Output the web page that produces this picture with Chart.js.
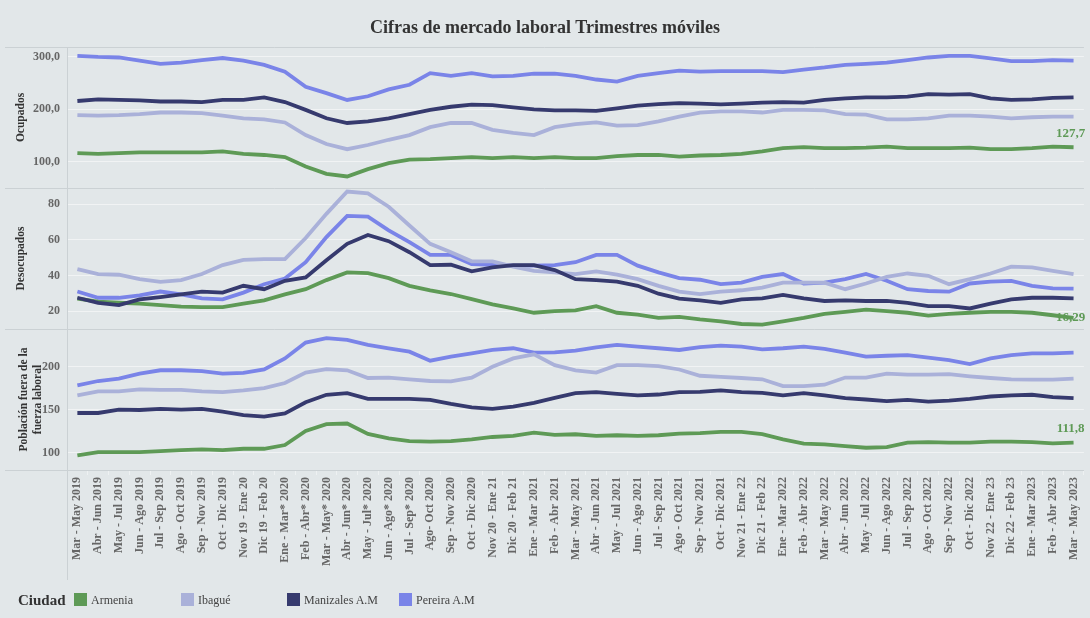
<!DOCTYPE html>
<html><head><meta charset="utf-8">
<script src="https://cdn.jsdelivr.net/npm/chart.js@4.4.1/dist/chart.umd.min.js"></script>
<style>
html,body{margin:0;padding:0;background:#e2e7e9;}
#wrap{position:relative;width:1090px;height:618px;overflow:hidden;background:#e2e7e9;}
#c{position:absolute;left:0;top:0;}
#title{position:absolute;left:0;top:16px;width:1090px;text-align:center;font:bold 18px 'Liberation Serif','Times New Roman',serif;line-height:22px;color:#333;}
#legend{position:absolute;left:0;top:590px;width:1090px;height:24px;font-family:'Liberation Serif','Times New Roman',serif;}
#legend .hd{position:absolute;left:18px;top:0;font-weight:bold;font-size:15px;color:#333;line-height:20px;}
#legend .bx{position:absolute;top:3px;width:13px;height:13px;}
#legend .tx{position:absolute;top:0;font-size:12px;color:#444;line-height:20px;}
</style></head>
<body>
<div id="wrap">
<canvas id="c" width="1090" height="618"></canvas>
<div id="title">Cifras de mercado laboral Trimestres móviles</div>
<div id="legend"><span class="hd">Ciudad</span></div>
</div>
<script>
const periods = ["Mar - May 2019","Abr - Jun 2019","May - Jul 2019","Jun - Ago 2019","Jul - Sep 2019","Ago - Oct 2019","Sep - Nov 2019","Oct - Dic 2019","Nov 19 - Ene 20","Dic 19 - Feb 20",
"Ene - Mar* 2020","Feb - Abr* 2020","Mar - May* 2020","Abr - Jun* 2020","May - Jul* 2020","Jun - Ago* 2020","Jul - Sep* 2020","Ago- Oct 2020","Sep - Nov 2020","Oct - Dic 2020",
"Nov 20 - Ene 21","Dic 20 - Feb 21","Ene - Mar 2021","Feb - Abr 2021","Mar - May 2021","Abr - Jun 2021","May - Jul 2021","Jun - Ago 2021","Jul - Sep 2021","Ago - Oct 2021",
"Sep - Nov 2021","Oct - Dic 2021","Nov 21 - Ene 22","Dic 21 - Feb 22","Ene - Mar 2022","Feb - Abr 2022","Mar - May 2022","Abr - Jun 2022","May - Jul 2022","Jun - Ago 2022",
"Jul - Sep 2022","Ago - Oct 2022","Sep - Nov 2022","Oct - Dic 2022","Nov 22 - Ene 23","Dic 22 - Feb 23","Ene - Mar 2023","Feb - Abr 2023","Mar - May 2023"];

const cities = ["Armenia","Ibagué","Manizales A.M","Pereira A.M"];
const cityColors = ["#5e9a56","#aab1d9","#363a6e","#7a84e8"];

// Ocupados (miles)
const armOcu = [116.6,115,116.6,118,118,118,118,120,115,113,
109,91,77,72,86,97.5,104,105,107,109,
107,109,107,109,107,107,111,113,113,110,
112,113,115,120,126,128,126,126,127,129,
126,126,126,127,124,124,126,129,127.7];
const ibaOcu = [189,188,189,191,194,194,193,188,183,181,
175,151,134,124,132,142,151,166,174,174,
161,155,151,166,172,175,169,170,177,186,
194,196,196,194,199,199,198,191,190,181,
181,183,188,188,186,183,185,186,186];
const manOcu = [216,219,218,217,215,215,214,218,218,223,
214,199,183,174,177,183,191,199,205,209,
208,204,200,198,198,197,202,207,210,212,
211,209.5,211,213,214,213,218,221,223,223,
224.5,229,228,229,221,218,219,222,223];
const perOcu = [302,300,299,293,287,289,294,298,293,285,
272,243,231,218,225,238,247,269,264,269,
263,264,268,268,264,257,253,264,269,274,
272,273,273,273,271,276,280,285,287,289,
294,299,302,302,297.5,292,292,294,293];

// Desocupados
const armDes = [27,25.3,24.7,24.2,23.4,22.5,22.3,22.3,24.2,26,
29.4,32.3,37.4,41.7,41.3,38.5,34.2,31.7,29.6,26.7,
23.8,21.5,19.1,20,20.4,22.8,19.1,18.1,16.2,16.8,
15.4,14.3,12.8,12.5,14.3,16.2,18.5,19.6,20.9,20,
19.1,17.5,18.5,19.1,19.6,19.6,19.1,17.7,16.29];
const ibaDes = [43.6,40.8,40.4,37.9,36.4,37.4,40.8,45.8,48.7,49.2,
49.2,61,74.5,87,86,78.5,68,57.7,53,47.9,
47.9,44.9,42.6,41.7,40.8,42.3,40.4,37.9,34.2,31,
29.6,30.9,31.7,33.2,36,36,36,32.3,35.5,39.2,
41.1,39.8,35.1,37.9,41.1,44.9,44.5,42.6,40.8];
const manDes = [27.5,24.7,23.4,26.6,27.9,29.4,30.9,30.4,34.2,32.3,
37,38.9,48.5,57.7,62.7,59.2,53,45.8,46,42.3,
44.5,45.8,45.8,43,37.9,37.4,36.6,34.2,29.8,27,
26,24.7,26.6,27.2,29.1,27.2,25.7,26,25.7,25.7,
24.7,22.8,22.8,21.5,24.2,26.6,27.5,27.5,27.2];
const perDes = [31,27.5,27.5,28.9,31,29.4,27.2,26.6,30.4,35.1,
38.3,47.4,61.5,73.4,73,65.3,58.7,51.5,51.5,46.4,
46,45.5,45.5,45.8,47.4,51.5,51.5,45.5,41.7,38.5,
37.6,35.1,36,39.2,40.8,35.5,36,37.9,40.8,37,
32.3,31.3,30.9,35.5,36.6,37,34.2,32.8,32.6];

// Población fuera de la fuerza laboral
const armFue = [96.9,100.8,100.8,100.8,102,103.1,103.9,103.1,104.7,104.7,
109,125.5,133.3,134.1,122,116.9,113.7,112.9,113.7,115.7,
118.4,119.6,123.5,120.8,121.6,119.6,120.4,119.6,120.4,122.4,
123,124.3,124.3,121.6,115.7,110.6,109.8,107.8,105.9,106.7,
111.8,112.5,111.8,111.8,112.9,112.9,112.5,111,111.8];
const ibaFue = [166.7,171.4,171.4,173.7,173.3,173.3,171.4,170.6,172.5,175.3,
181.2,193.3,197.3,196,187,187.5,185.5,183.5,183.1,187.5,
200,209.8,214.5,202,196,193.3,202,202,200.8,196.9,
189.6,188.2,187,185.5,177.6,177.6,179.2,187.5,187.5,192.2,
191,191,191.4,189,187,185.5,185.1,185.1,186.3];
const manFue = [146.3,146.3,150.2,149.8,151,150.2,151,147.8,143.9,142,
145.9,158.8,167.5,169.4,162.7,162.7,162.7,161.6,156.9,152.9,
151,153.7,158,163.9,169.4,170.6,168.6,166.7,167.8,170.6,
170.8,172.5,170.6,169.8,166.7,169.4,166.7,163.5,162,160,
161.6,159.6,160.8,162.7,165.5,166.7,167.5,164.7,163.5];
const perFue = [178.4,183.5,186.3,192.2,196,196,195,192.2,193,196.9,
209.8,228.2,233.3,231.4,225.5,221.6,217.6,207.1,211.8,215.7,
219.6,221.6,216.5,216.9,218.8,222.7,225.5,223.5,221.6,219.6,
223,224.7,223.5,220.4,221.6,223.5,220.8,216.5,211.8,212.9,
213.7,210.6,207.8,203.1,209.8,213.7,215.7,215.7,216.5];

const ocuTicks = [100,200,300];
const desTicks = [20,40,60,80];
const fueTicks = [100,150,200];

const panelTitles = {
  yOcu: "Ocupados",
  yDes: "Desocupados",
  yFue: ["Población fuera de la","fuerza laboral"]
};

const SERIF = "'Liberation Serif','Times New Roman',serif";

const panels = [
  {axis:'yOcu', series:[armOcu,ibaOcu,manOcu,perOcu]},
  {axis:'yDes', series:[armDes,ibaDes,manDes,perDes]},
  {axis:'yFue', series:[armFue,ibaFue,manFue,perFue]}
];

const datasets = [];
panels.forEach(p => {
  p.series.forEach((vals, k) => {
    datasets.push({
      label: cities[k],
      data: vals,
      yAxisID: p.axis,
      borderColor: cityColors[k],
      backgroundColor: cityColors[k],
      borderWidth: 3.8,
      pointRadius: 0,
      tension: 0,
      fill: false,
      order: k === 2 ? 0 : k + 1
    });
  });
});

function yAxis(min, max, tickVals, title, fmt, titlePad) {
  return {
    type: 'linear', position: 'left', stack: 'panels', stackWeight: 1,
    min: min, max: max,
    afterBuildTicks(s) { s.ticks = tickVals.map(v => ({value: v})); },
    afterFit(s) { s.width = 57; },
    grid: {color: 'rgba(255,255,255,0.5)', drawTicks: false, lineWidth: 1},
    border: {display: true, color: '#cbd1d4'},
    ticks: {padding: 7, color: '#666', font: {family: SERIF, size: 12, weight: 'bold'}, callback: fmt},
    title: {display: true, text: title, color: '#333', font: {family: SERIF, size: 11.5, weight: 'bold'}, padding: {top: titlePad, bottom: 0}}
  };
}

const endLabelOffsets = {yOcu: -14, yDes: 0, yFue: -14};

const deco = {
  id: 'deco',
  beforeDatasetsDraw(chart) {
    const ctx = chart.ctx, a = chart.chartArea;
    ctx.save();
    ctx.strokeStyle = '#cbd1d4';
    ctx.lineWidth = 1;
    const ys = [a.top, chart.scales.yOcu.bottom, chart.scales.yDes.bottom, a.bottom];
    ys.forEach(y => {
      const yy = Math.round(y) + 0.5;
      ctx.beginPath(); ctx.moveTo(5, yy); ctx.lineTo(a.right, yy); ctx.stroke();
    });
    ctx.beginPath();
    ctx.moveTo(Math.round(a.left) + 0.5, a.top);
    ctx.lineTo(Math.round(a.left) + 0.5, 580);
    ctx.stroke();
    ctx.restore();
  },
  afterDatasetsDraw(chart) {
    const ctx = chart.ctx;
    ctx.save();
    ctx.font = "bold 13px " + SERIF;
    ctx.fillStyle = cityColors[0];
    ctx.textAlign = 'center';
    ctx.textBaseline = 'middle';
    chart.data.datasets.forEach((ds, i) => {
      if (ds.label !== cities[0]) return;
      const meta = chart.getDatasetMeta(i);
      const last = meta.data[meta.data.length - 1];
      const v = ds.data[ds.data.length - 1];
      const txt = String(v).replace('.', ',');
      ctx.fillText(txt, last.x - 3, last.y + endLabelOffsets[ds.yAxisID]);
    });
    ctx.restore();
  }
};

new Chart(document.getElementById('c'), {
  type: 'line',
  data: {labels: periods, datasets: datasets},
  options: {
    responsive: false,
    animation: false,
    layout: {padding: {left: 10, right: 4, top: 47, bottom: 43}},
    plugins: {legend: {display: false}, tooltip: {enabled: false}, title: {display: false}},
    scales: {
      x: {
        type: 'category', offset: true,
        grid: {display: true, drawOnChartArea: false, drawTicks: true, tickLength: 5, color: '#eef1f2', offset: true},
        border: {display: true, color: '#cbd1d4'},
        ticks: {autoSkip: false, maxRotation: 90, minRotation: 90, padding: 2, color: '#666', font: {family: SERIF, size: 12, weight: 'bold'}},
        afterFit(s) { s.height = 105; }
      },
      yFue: yAxis(80, 244, fueTicks, panelTitles.yFue, v => String(v), 7.5),
      yDes: yAxis(10, 89, desTicks, panelTitles.yDes, v => String(v), 4),
      yOcu: yAxis(50, 319, ocuTicks, panelTitles.yOcu, v => v.toFixed(1).replace('.', ','), 4)
    }
  },
  plugins: [deco]
});

// HTML legend
const legendLefts = [74, 181, 287, 399];
const lg = document.getElementById('legend');
cities.forEach((c, k) => {
  const b = document.createElement('span');
  b.className = 'bx'; b.style.left = legendLefts[k] + 'px'; b.style.background = cityColors[k];
  const t = document.createElement('span');
  t.className = 'tx'; t.style.left = (legendLefts[k] + 17) + 'px'; t.textContent = c;
  lg.appendChild(b); lg.appendChild(t);
});
</script>
</body></html>
